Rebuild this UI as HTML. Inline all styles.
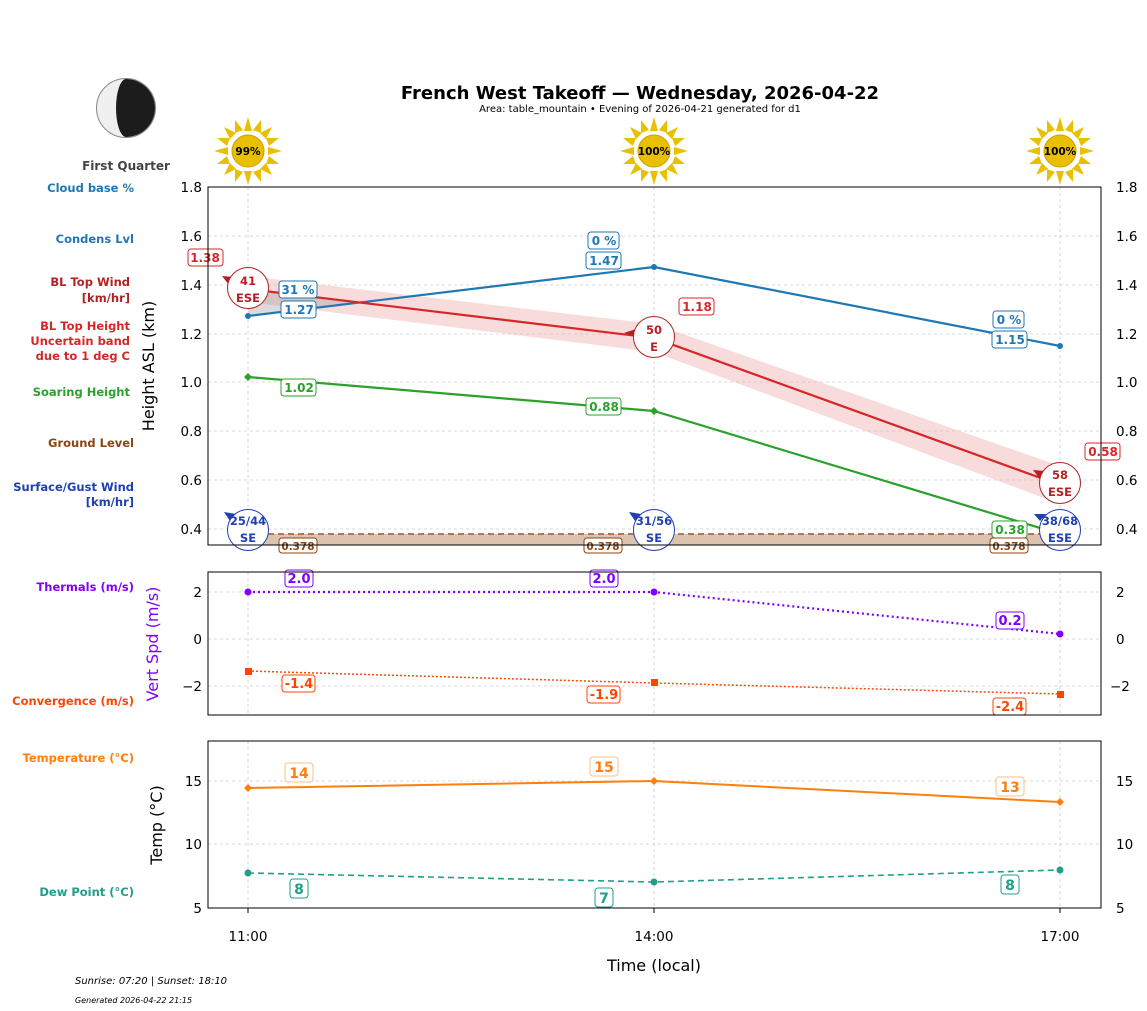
<!DOCTYPE html><html><head><meta charset="utf-8"><style>body{margin:0;background:#fff}svg{display:block;font-family:"DejaVu Sans","Liberation Sans",sans-serif}</style></head><body>
<svg width="1147" height="1011" viewBox="0 0 1147 1011" xmlns="http://www.w3.org/2000/svg">
<defs>
<g id="sun"><g fill="#e8c000"><polygon points="0,-34 4,-20 -4,-20"/><polygon points="0,34 4,20 -4,20"/><polygon points="-34,0 -20,4 -20,-4"/><polygon points="34,0 20,4 20,-4"/><polygon points="24,-24 18,-12 12,-18"/><polygon points="-24,24 -18,12 -12,18"/><polygon points="-24,-24 -12,-18 -18,-12"/><polygon points="24,24 12,18 18,12"/><polygon points="13,-31 13,-18 5,-21" /><polygon points="-13,31 -13,18 -5,21"/><polygon points="-13,-31 -5,-21 -13,-18"/><polygon points="13,31 5,21 13,18"/><polygon points="31,-13 21,-5 18,-13"/><polygon points="-31,13 -21,5 -18,13"/><polygon points="-31,-13 -18,-13 -21,-5"/><polygon points="31,13 18,13 21,5"/></g><circle r="16" fill="#e8c000" stroke="#c9a000"/></g>
</defs>
<text x="640" y="99" font-size="18" font-weight="bold" text-anchor="middle">French West Takeoff — Wednesday, 2026-04-22</text>
<text x="640" y="112" font-size="10" text-anchor="middle">Area: table_mountain • Evening of 2026-04-21 generated for d1</text>
<circle cx="126" cy="108" r="29.5" fill="#f0f0f0" stroke="#888"/>
<path d="M126,79 A29,29 0 0 1 126,137 A10,29 0 0 1 126,79Z" fill="#1c1c1c"/>
<text x="126" y="170" font-size="12" font-weight="bold" fill="#444" text-anchor="middle">First Quarter</text>
<use href="#sun" x="248" y="151"/><use href="#sun" x="654" y="151"/><use href="#sun" x="1060" y="151"/>
<g font-size="10.5" font-weight="bold" text-anchor="middle"><text x="248" y="155">99%</text><text x="654" y="155">100%</text><text x="1060" y="155">100%</text></g>
<g font-size="11.5" font-weight="bold" text-anchor="end">
<text x="134" y="192" fill="#1f77b4">Cloud base %</text>
<text x="134" y="243" fill="#1f77b4">Condens Lvl</text>
<text x="130" y="286" fill="#b22222">BL Top Wind</text><text x="130" y="302" fill="#b22222">[km/hr]</text>
<text x="130" y="330" fill="#d62728">BL Top Height</text><text x="130" y="345" fill="#d62728">Uncertain band</text><text x="130" y="360" fill="#d62728">due to 1 deg C</text>
<text x="130" y="396" fill="#2ca02c">Soaring Height</text>
<text x="134" y="447" fill="#8b4513">Ground Level</text>
<text x="134" y="491" fill="#1f3fb4">Surface/Gust Wind</text><text x="134" y="506" fill="#1f3fb4">[km/hr]</text>
<text x="134" y="591" fill="#7f00ff">Thermals (m/s)</text>
<text x="134" y="705" fill="#ff4500">Convergence (m/s)</text>
<text x="134" y="762" fill="#ff7f0e">Temperature (°C)</text>
<text x="134" y="896" fill="#1f9e89">Dew Point (°C)</text>
</g>
<g stroke="#ccc" stroke-dasharray="3,3" stroke-width="0.8">
<line x1="208" x2="1101" y1="236" y2="236"/><line x1="208" x2="1101" y1="285" y2="285"/><line x1="208" x2="1101" y1="334" y2="334"/><line x1="208" x2="1101" y1="382" y2="382"/><line x1="208" x2="1101" y1="431" y2="431"/><line x1="208" x2="1101" y1="480" y2="480"/><line x1="208" x2="1101" y1="529" y2="529"/>
<line x1="248" x2="248" y1="187" y2="545"/><line x1="654" x2="654" y1="187" y2="545"/><line x1="1060" x2="1060" y1="187" y2="545"/>
<line x1="208" x2="1101" y1="592" y2="592"/><line x1="208" x2="1101" y1="639" y2="639"/><line x1="208" x2="1101" y1="686" y2="686"/>
<line x1="248" x2="248" y1="572" y2="715"/><line x1="654" x2="654" y1="572" y2="715"/><line x1="1060" x2="1060" y1="572" y2="715"/>
<line x1="208" x2="1101" y1="781" y2="781"/><line x1="208" x2="1101" y1="844" y2="844"/>
<line x1="248" x2="248" y1="741" y2="908"/><line x1="654" x2="654" y1="741" y2="908"/><line x1="1060" x2="1060" y1="741" y2="908"/>
</g>
<rect x="248" y="534" width="812" height="11" fill="#dcc3b0"/>
<line x1="248" x2="1060" y1="534" y2="534" stroke="#a0522d" stroke-width="1.5" stroke-dasharray="6,4"/>
<polygon points="248,276 654,324 1060,466 1060,504 654,352 248,302" fill="#f0b0b0" opacity="0.45"/>
<polygon points="248,316 248,289 360,302" fill="#999" opacity="0.35"/>
<polyline points="248,316 654,267 1060,346" fill="none" stroke="#1f77b4" stroke-width="2.2"/>
<g fill="#1f77b4"><circle cx="248" cy="316" r="3"/><circle cx="654" cy="267" r="3"/><circle cx="1060" cy="346" r="3"/></g>
<polyline points="248,289 654,338 1060,485" fill="none" stroke="#d62728" stroke-width="2.2"/>
<polyline points="248,377 654,411 1060,534" fill="none" stroke="#2ca02c" stroke-width="2.2"/>
<g fill="#2ca02c"><path d="M248,373l4,4-4,4-4-4z"/><path d="M654,407l4,4-4,4-4-4z"/></g>
<g font-size="12" font-weight="bold" text-anchor="middle">
<rect x="188" y="249" width="35" height="17" rx="3" fill="#fff" stroke="#d62728"/><text x="205" y="262" fill="#d62728">1.38</text>
<rect x="679" y="298" width="35" height="17" rx="3" fill="#fff" stroke="#d62728"/><text x="697" y="311" fill="#d62728">1.18</text>
<rect x="1085" y="443" width="35" height="17" rx="3" fill="#fff" stroke="#d62728"/><text x="1103" y="456" fill="#d62728">0.58</text>
<rect x="279" y="281" width="38" height="17" rx="3" fill="#fff" stroke="#1f77b4"/><text x="298" y="294" fill="#1f77b4">31 %</text>
<rect x="281" y="301" width="35" height="17" rx="3" fill="#fff" stroke="#1f77b4"/><text x="299" y="314" fill="#1f77b4">1.27</text>
<rect x="588" y="232" width="31" height="17" rx="3" fill="#fff" stroke="#1f77b4"/><text x="604" y="245" fill="#1f77b4">0 %</text>
<rect x="586" y="252" width="35" height="17" rx="3" fill="#fff" stroke="#1f77b4"/><text x="604" y="265" fill="#1f77b4">1.47</text>
<rect x="993" y="311" width="31" height="17" rx="3" fill="#fff" stroke="#1f77b4"/><text x="1009" y="324" fill="#1f77b4">0 %</text>
<rect x="992" y="331" width="35" height="17" rx="3" fill="#fff" stroke="#1f77b4"/><text x="1010" y="344" fill="#1f77b4">1.15</text>
<rect x="281" y="379" width="35" height="17" rx="3" fill="#fff" stroke="#2ca02c"/><text x="299" y="392" fill="#2ca02c">1.02</text>
<rect x="586" y="398" width="35" height="17" rx="3" fill="#fff" stroke="#2ca02c"/><text x="604" y="411" fill="#2ca02c">0.88</text>
<rect x="992" y="521" width="35" height="17" rx="3" fill="#fff" stroke="#2ca02c"/><text x="1010" y="534" fill="#2ca02c">0.38</text>
</g>
<g font-size="10.5" font-weight="bold" text-anchor="middle" fill="#8b4513">
<rect x="279" y="538" width="38" height="15" rx="3" fill="#fff" stroke="#8b4513"/><text x="298" y="550">0.378</text>
<rect x="584" y="538" width="38" height="15" rx="3" fill="#fff" stroke="#8b4513"/><text x="603" y="550">0.378</text>
<rect x="990" y="538" width="38" height="15" rx="3" fill="#fff" stroke="#8b4513"/><text x="1009" y="550">0.378</text>
</g>
<g font-size="11.5" font-weight="bold" text-anchor="middle">
<g fill="#b22222"><path d="M222,276l12,1-5,8z"/><path d="M624,333l12-4 0,8z"/><path d="M1033,470l12,1-5,8z"/></g>
<circle cx="248" cy="288" r="20.5" fill="#fff" stroke="#b22222"/><text x="248" y="285" fill="#b22222">41</text><text x="248" y="302" fill="#b22222">ESE</text>
<circle cx="654" cy="337" r="20.5" fill="#fff" stroke="#b22222"/><text x="654" y="334" fill="#b22222">50</text><text x="654" y="351" fill="#b22222">E</text>
<circle cx="1060" cy="483" r="20.5" fill="#fff" stroke="#b22222"/><text x="1060" y="479" fill="#b22222">58</text><text x="1060" y="496" fill="#b22222">ESE</text>
<g fill="#1f3fb4"><path d="M224,512l12,2-6,7z"/><path d="M629,512l12,2-6,7z"/><path d="M1034,514l12,0-6,7z"/></g>
<circle cx="248" cy="530" r="20.5" fill="#fff" stroke="#1f3fb4"/><text x="248" y="525" fill="#1f3fb4">25/44</text><text x="248" y="542" fill="#1f3fb4">SE</text>
<circle cx="654" cy="530" r="20.5" fill="#fff" stroke="#1f3fb4"/><text x="654" y="525" fill="#1f3fb4">31/56</text><text x="654" y="542" fill="#1f3fb4">SE</text>
<circle cx="1060" cy="530" r="20.5" fill="#fff" stroke="#1f3fb4"/><text x="1060" y="525" fill="#1f3fb4">38/68</text><text x="1060" y="542" fill="#1f3fb4">ESE</text>
</g>
<rect x="208" y="187" width="893" height="358" fill="none" stroke="#000"/>
<g font-size="13.5"><g text-anchor="end"><text x="202" y="192">1.8</text><text x="202" y="241">1.6</text><text x="202" y="290">1.4</text><text x="202" y="339">1.2</text><text x="202" y="387">1.0</text><text x="202" y="436">0.8</text><text x="202" y="485">0.6</text><text x="202" y="534">0.4</text></g>
<g><text x="1116" y="192">1.8</text><text x="1116" y="241">1.6</text><text x="1116" y="290">1.4</text><text x="1116" y="339">1.2</text><text x="1116" y="387">1.0</text><text x="1116" y="436">0.8</text><text x="1116" y="485">0.6</text><text x="1116" y="534">0.4</text></g></g>
<text transform="translate(154,366) rotate(-90)" font-size="16" text-anchor="middle">Height ASL (km)</text>
<polyline points="248,592 654,592 1060,634" fill="none" stroke="#7f00ff" stroke-width="2.2" stroke-dasharray="2,3"/>
<g fill="#7f00ff"><circle cx="248" cy="592" r="3.5"/><circle cx="654" cy="592" r="3.5"/><circle cx="1060" cy="634" r="3.5"/></g>
<polyline points="248,671 654,683 1060,694" fill="none" stroke="#ff4500" stroke-width="1.5" stroke-dasharray="2,2"/>
<g fill="#ff4500"><rect x="245" y="668" width="7" height="7"/><rect x="651" y="679" width="7" height="7"/><rect x="1057" y="691" width="7" height="7"/></g>
<g font-size="13" font-weight="bold" text-anchor="middle">
<rect x="285" y="570" width="28" height="17" rx="3" fill="#fff" stroke="#7f00ff"/><text x="299" y="583" fill="#7f00ff">2.0</text>
<rect x="590" y="570" width="28" height="17" rx="3" fill="#fff" stroke="#7f00ff"/><text x="604" y="583" fill="#7f00ff">2.0</text>
<rect x="996" y="612" width="28" height="17" rx="3" fill="#fff" stroke="#7f00ff"/><text x="1010" y="625" fill="#7f00ff">0.2</text>
<rect x="282" y="675" width="33" height="17" rx="3" fill="#fff" stroke="#ff4500"/><text x="299" y="688" fill="#ff4500">-1.4</text>
<rect x="587" y="686" width="33" height="17" rx="3" fill="#fff" stroke="#ff4500"/><text x="604" y="699" fill="#ff4500">-1.9</text>
<rect x="993" y="698" width="33" height="17" rx="3" fill="#fff" stroke="#ff4500"/><text x="1010" y="711" fill="#ff4500">-2.4</text>
</g>
<rect x="208" y="572" width="893" height="143" fill="none" stroke="#000"/>
<g font-size="13.5"><text x="202" y="597" text-anchor="end">2</text><text x="202" y="644" text-anchor="end">0</text><text x="202" y="691" text-anchor="end">−2</text>
<text x="1116" y="597">2</text><text x="1116" y="644">0</text><text x="1110" y="691">−2</text></g>
<text transform="translate(158,644) rotate(-90)" font-size="16" fill="#7f00ff" text-anchor="middle">Vert Spd (m/s)</text>
<polyline points="248,788 654,781 1060,802" fill="none" stroke="#ff7f0e" stroke-width="2"/>
<g fill="#ff7f0e"><path d="M248,784l4,4-4,4-4-4z"/><path d="M654,777l4,4-4,4-4-4z"/><path d="M1060,798l4,4-4,4-4-4z"/></g>
<polyline points="248,873 654,882 1060,870" fill="none" stroke="#1f9e89" stroke-width="1.6" stroke-dasharray="6,4"/>
<g fill="#1f9e89"><circle cx="248" cy="873" r="3.5"/><circle cx="654" cy="882" r="3.5"/><circle cx="1060" cy="870" r="3.5"/></g>
<g font-size="14" font-weight="bold" text-anchor="middle">
<rect x="285" y="763" width="28" height="19" rx="3" fill="#fff" stroke="#ff7f0e" stroke-opacity="0.5"/><text x="299" y="778" fill="#ff7f0e">14</text>
<rect x="590" y="757" width="28" height="19" rx="3" fill="#fff" stroke="#ff7f0e" stroke-opacity="0.5"/><text x="604" y="772" fill="#ff7f0e">15</text>
<rect x="996" y="777" width="28" height="19" rx="3" fill="#fff" stroke="#ff7f0e" stroke-opacity="0.5"/><text x="1010" y="792" fill="#ff7f0e">13</text>
<rect x="290" y="879" width="18" height="19" rx="3" fill="#fff" stroke="#1f9e89"/><text x="299" y="894" fill="#1f9e89">8</text>
<rect x="595" y="888" width="18" height="19" rx="3" fill="#fff" stroke="#1f9e89"/><text x="604" y="903" fill="#1f9e89">7</text>
<rect x="1001" y="875" width="18" height="19" rx="3" fill="#fff" stroke="#1f9e89"/><text x="1010" y="890" fill="#1f9e89">8</text>
</g>
<rect x="208" y="741" width="893" height="167" fill="none" stroke="#000"/>
<g font-size="13.5"><text x="202" y="786" text-anchor="end">15</text><text x="202" y="849" text-anchor="end">10</text><text x="202" y="913" text-anchor="end">5</text>
<text x="1116" y="786">15</text><text x="1116" y="849">10</text><text x="1116" y="913">5</text></g>
<text transform="translate(162,825) rotate(-90)" font-size="16" text-anchor="middle">Temp (°C)</text>
<g stroke="#000"><line x1="248" x2="248" y1="908" y2="913"/><line x1="654" x2="654" y1="908" y2="913"/><line x1="1060" x2="1060" y1="908" y2="913"/></g>
<g font-size="13.5" text-anchor="middle"><text x="248" y="941">11:00</text><text x="654" y="941">14:00</text><text x="1060" y="941">17:00</text></g>
<text x="654" y="971" font-size="16" text-anchor="middle">Time (local)</text>
<text x="75" y="984" font-size="10" font-style="italic">Sunrise: 07:20 | Sunset: 18:10</text>
<text x="75" y="1003" font-size="8" font-style="italic">Generated 2026-04-22 21:15</text>
</svg>
</body></html>
